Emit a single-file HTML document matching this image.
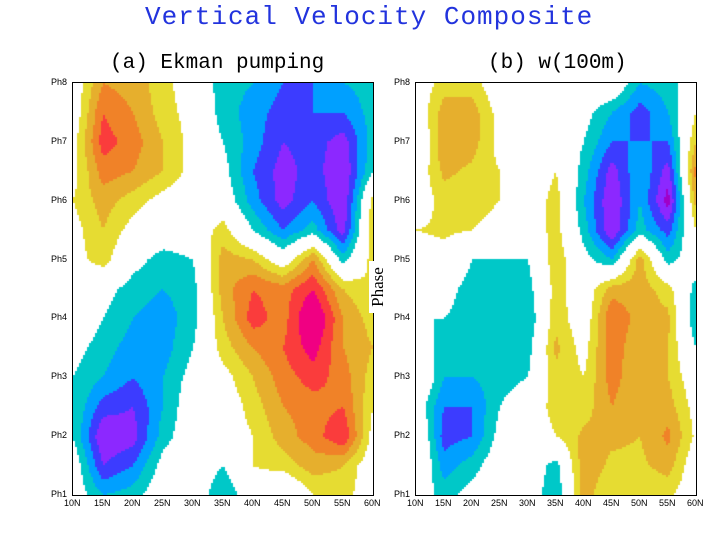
<!DOCTYPE html>
<html><head><meta charset="utf-8"><style>
body{margin:0;background:#fff;width:720px;height:540px;overflow:hidden;position:relative;font-family:"Liberation Serif",serif}
.t{position:absolute;white-space:nowrap}
canvas{position:absolute}
.frame{position:absolute;border:1px solid #000;box-sizing:border-box}
.tick{position:absolute;font:9px "Liberation Sans",sans-serif;color:#000}
</style></head><body>
<div class="t" style="left:145px;top:2px;font:26px 'Liberation Mono',monospace;color:#2233dd;letter-spacing:1px">Vertical Velocity Composite</div>
<div class="t" style="left:110px;top:52px;font:21px 'Liberation Mono',monospace">(a) Ekman pumping</div>
<div class="t" style="left:488px;top:52px;font:21px 'Liberation Mono',monospace">(b) w(100m)</div>
<canvas id="ca" width="300" height="412" style="left:73px;top:83px"></canvas>
<canvas id="cb" width="280" height="412" style="left:416px;top:83px"></canvas>
<div class="frame" style="left:72px;top:82px;width:302px;height:414px"></div>
<div class="frame" style="left:415px;top:82px;width:282px;height:414px"></div>
<div class="t" style="left:352px;top:278px;width:52px;text-align:center;font:17px 'Liberation Serif',serif;transform:rotate(-90deg);z-index:5;background:#fff;line-height:18px">Phase</div>
<div id="ticks"></div>
<script>
const lats=["10N","15N","20N","25N","30N","35N","40N","45N","50N","55N","60N"];
const phases=["Ph8","Ph7","Ph6","Ph5","Ph4","Ph3","Ph2","Ph1"];
// rows: Ph8, Ph7.5, ..., Ph1 ; cols: 10N..60N
const ekman=[
[0,0.6,0.5,0.3,0,-0.3,-0.4,-0.6,-0.6,-0.4,-0.3],
[0,0.8,0.6,0.3,0.1,-0.3,-0.5,-0.7,-0.6,-0.6,-0.3],
[0.1,0.9,0.7,0.4,0.1,-0.2,-0.5,-0.8,-0.7,-0.9,-0.3],
[0.1,0.7,0.6,0.4,0.1,-0.1,-0.6,-0.9,-0.7,-1.0,-0.2],
[0.2,0.5,0.3,0.1,0,0,-0.5,-0.9,-0.6,-1.0,0.3],
[0.1,0.4,0.1,0,0,0.3,-0.2,-0.6,-0.3,-0.9,0.4],
[0.1,0.3,-0.1,-0.3,-0.2,0.5,0.4,0,0.6,-0.3,0.3],
[0,-0.1,-0.3,-0.4,-0.3,0.5,0.8,0.7,1.0,0.4,0.2],
[0,-0.2,-0.4,-0.5,-0.3,0.4,0.9,0.7,1.3,0.6,0.3],
[-0.1,-0.3,-0.5,-0.5,-0.2,0.3,0.6,0.8,1.1,0.6,0.4],
[-0.2,-0.4,-0.6,-0.4,-0.1,0.1,0.4,0.7,0.9,0.7,0.3],
[-0.2,-0.7,-0.8,-0.4,0,0,0.3,0.6,0.7,0.8,0.2],
[-0.2,-1.0,-0.9,-0.3,0,0,0.2,0.5,0.7,1.0,0.1],
[0,-0.8,-0.6,-0.1,0,-0.2,0.2,0.3,0.5,0.4,0],
[0,-0.4,-0.3,0,0,-0.4,0,-0.2,0.2,0.3,0]];
const w100=[
[0,0.3,0.3,0,0,-0.1,0,0.1,-0.4,-0.3,0],
[0,0.5,0.5,0.1,0,0,-0.1,-0.4,-0.7,-0.4,0.2],
[-0.2,0.6,0.5,0.1,0.1,0,-0.2,-0.6,-0.6,-0.6,0.4],
[0,0.45,0.35,0.2,0,0.2,-0.3,-0.9,-0.4,-0.9,0.7],
[0,0.3,0.3,0.2,0,0.3,-0.4,-1.0,-0.4,-1.1,0.5],
[0.2,0.25,0.2,0.1,0,0.3,-0.3,-1.0,-0.3,-0.7,0.2],
[0,0.1,-0.2,-0.2,-0.2,0.35,-0.1,-0.4,0.5,-0.3,0],
[0,-0.1,-0.3,-0.2,-0.3,0.3,0,0.5,0.5,0.3,-0.3],
[-0.2,-0.2,-0.3,-0.2,-0.4,0.35,0,0.8,0.5,0.45,-0.4],
[0,-0.3,-0.3,-0.3,-0.3,0.45,0.1,0.75,0.4,0.4,-0.2],
[0.2,-0.4,-0.4,-0.3,-0.2,0.35,0.2,0.7,0.4,0.4,0],
[0,-0.6,-0.6,-0.2,0,0.3,0.3,0.6,0.4,0.5,0.1],
[0.2,-0.7,-0.6,-0.1,0,0.2,0.45,0.45,0.4,0.65,0.15],
[0.2,-0.5,-0.3,0,0,-0.3,0.55,0.35,0.35,0.5,0],
[0,-0.3,-0.1,0,0,-0.4,0.5,0.2,0.2,0.25,0]];
const levels=[-1,-0.8,-0.6,-0.4,-0.2,0.2,0.4,0.6,0.8,1];
const colors=["#a000c8","#8c28ff","#3c3cff","#00a0ff","#00c8c8","#ffffff","#e6dc32","#e6af2d","#f08228","#fa3c3c","#f00082"];
function col(v){let i=0;while(i<levels.length&&v>=levels[i])i++;return colors[i];}
function draw(id,g){
  const c=document.getElementById(id),ctx=c.getContext('2d');
  const W=c.width,H=c.height,R=g.length,C=g[0].length,s=2;
  for(let y=0;y<H;y+=s)for(let x=0;x<W;x+=s){
    const fx=(x+s/2)/W*(C-1),fy=(y+s/2)/H*(R-1);
    const i=Math.min(Math.floor(fy),R-2),j=Math.min(Math.floor(fx),C-2),ty=fy-i,tx=fx-j;
    const v=(g[i][j]*(1-tx)+g[i][j+1]*tx)*(1-ty)+(g[i+1][j]*(1-tx)+g[i+1][j+1]*tx)*ty;
    ctx.fillStyle=col(v);ctx.fillRect(x,y,s,s);
  }
}
draw('ca',ekman);draw('cb',w100);
const tk=document.getElementById('ticks');
[[73,300],[416,280]].forEach(([x0,w])=>{
  phases.forEach((ph,k)=>{const d=document.createElement('div');d.className='tick';
    
    
    d.textContent=ph;d.style.left=(x0-22)+'px';d.style.top=(83+k*412/7-6)+'px';tk.appendChild(d);});
  lats.forEach((l,k)=>{const d=document.createElement('div');d.className='tick';
    
    
    d.textContent=l;d.style.left=(x0+k*w/10-9)+'px';d.style.top='498px';tk.appendChild(d);});
});
</script>
</body></html>
